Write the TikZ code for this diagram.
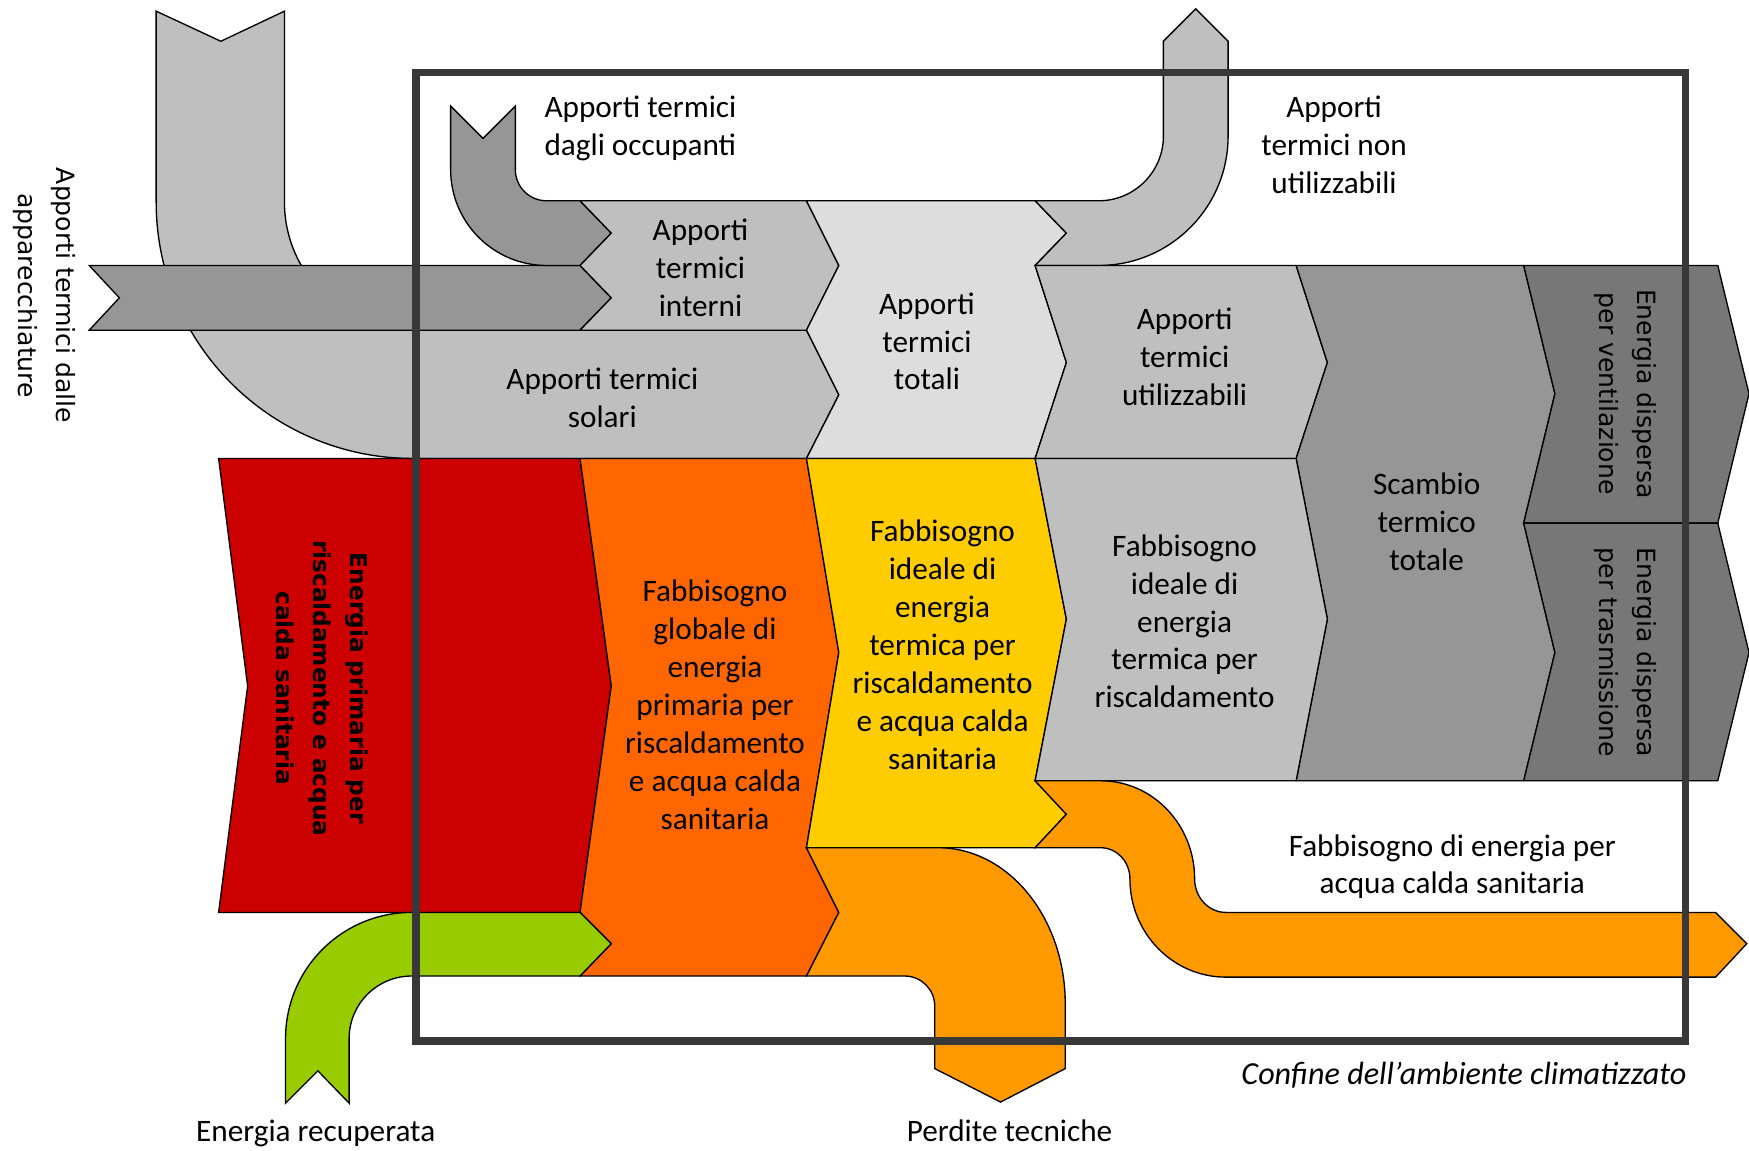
\documentclass[tikz,border=0pt]{standalone}
\usepackage{fontspec}
\setmainfont{Carlito}
\newfontfamily\dejavu{DejaVu Sans}
\usepackage{tikz}
\definecolor{gainlt}{HTML}{BFBFBF}
\definecolor{gaindk}{HTML}{969696}
\definecolor{gaintot}{HTML}{DDDDDD}
\definecolor{lossdk}{HTML}{777777}
\definecolor{primred}{HTML}{CC0000}
\definecolor{globorg}{HTML}{FF6600}
\definecolor{idealyel}{HTML}{FFCC00}
\definecolor{acsorg}{HTML}{FF9900}
\definecolor{recgrn}{HTML}{99CC00}
\definecolor{bound}{HTML}{383838}
\tikzset{
  flow/.style={draw=black,line width=1.2pt},
  lab/.style={font=\fontsize{28}{34}\selectfont,align=center,inner sep=0pt},
  vlab/.style={font=\dejavu\fontsize{22.5}{34}\selectfont,align=center,inner sep=0pt,rotate=-90},
  rlab/.style={font=\dejavu\bfseries\fontsize{20.8}{33}\selectfont,align=center,inner sep=0pt,rotate=-90},
}
\begin{document}
\begin{tikzpicture}[x=1pt,y=1pt,yscale=-1]
\useasboundingbox (0,0) rectangle (1568,1031);
\fill[white] (0,0) rectangle (1568,1031);
% gains: solar, appliances, occupants
\filldraw[flow,fill=gainlt] (140,10) -- (198,37) -- (255,10) -- (255,181)
  arc[start angle=180,end angle=90,radius=115] -- (723,296) -- (752,354) -- (723,411) -- (370,411)
  arc[start angle=90,end angle=180,radius=230] -- cycle;
\filldraw[flow,fill=gaindk] (80,238) -- (520,238) -- (548,267) -- (520,296) -- (80,296) -- (107,267) -- cycle;
\filldraw[flow,fill=gaindk] (404,95) -- (433,124) -- (462,95) -- (462,152)
  arc[start angle=180,end angle=90,radius=28] -- (520,180) -- (548,209) -- (520,238) -- (490,238)
  arc[start angle=90,end angle=180,radius=86] -- cycle;
\filldraw[flow,fill=gainlt] (520,180) -- (723,180) -- (752,238) -- (723,296) -- (520,296) -- (548,267) -- (520,238) -- (548,209) -- cycle;
\filldraw[flow,fill=gaintot] (723,180) -- (928,180) -- (956,209) -- (928,238) -- (956,325) -- (928,411) -- (723,411) -- (752,354) -- (723,296) -- (752,238) -- cycle;
\filldraw[flow,fill=gainlt] (928,180) -- (985,180) arc[start angle=90,end angle=0,radius=58] -- (1043,37) -- (1072,8) -- (1101,37) -- (1101,122)
  arc[start angle=0,end angle=90,radius=116] -- (928,238) -- (956,209) -- cycle;
\filldraw[flow,fill=gainlt] (928,238) -- (1162,238) -- (1190,325) -- (1162,411) -- (928,411) -- (956,325) -- cycle;
% exchange and losses
\filldraw[flow,fill=gaindk] (1162,238) -- (1366,238) -- (1394,353) -- (1366,469) -- (1394,585) -- (1366,700) -- (1162,700) -- (1190,555) -- (1162,411) -- (1190,325) -- cycle;
\filldraw[flow,fill=lossdk] (1366,238) -- (1540,238) -- (1568,353) -- (1540,469) -- (1366,469) -- (1394,353) -- cycle;
\filldraw[flow,fill=lossdk] (1366,469) -- (1540,469) -- (1568,585) -- (1540,700) -- (1366,700) -- (1394,585) -- cycle;
% energy needs
\filldraw[flow,fill=primred] (196,411) -- (520,411) -- (548,615) -- (520,818) -- (196,818) -- (222,615) -- cycle;
\filldraw[flow,fill=globorg] (520,411) -- (723,411) -- (752,585) -- (723,760) -- (752,818) -- (723,875) -- (520,875) -- (548,846) -- (520,818) -- (548,615) -- cycle;
\filldraw[flow,fill=idealyel] (723,411) -- (928,411) -- (956,555) -- (928,700) -- (956,730) -- (928,760) -- (723,760) -- (752,585) -- cycle;
\filldraw[flow,fill=gainlt] (928,411) -- (1162,411) -- (1190,555) -- (1162,700) -- (928,700) -- (956,555) -- cycle;
% recovered energy, technical losses, hot water
\filldraw[flow,fill=recgrn] (256,989) -- (285,960) -- (313,989) -- (313,931)
  arc[start angle=180,end angle=270,radius=56] -- (520,875) -- (548,846) -- (520,818) -- (369,818)
  arc[start angle=270,end angle=180,radius=113] -- cycle;
\filldraw[flow,fill=acsorg] (723,760) -- (841,760) arc[start angle=270,end angle=360,x radius=114,y radius=140]
  -- (955,958) -- (897,988) -- (838,958) -- (838,902) arc[start angle=0,end angle=-90,radius=27]
  -- (723,875) -- (752,818) -- cycle;
\filldraw[flow,fill=acsorg] (928,700) -- (987,700) arc[start angle=270,end angle=360,x radius=84,y radius=88]
  arc[start angle=180,end angle=90,x radius=28,y radius=30] -- (1538,818) -- (1566,846) -- (1538,876) -- (1099,876)
  arc[start angle=90,end angle=180,x radius=86,y radius=88] arc[start angle=0,end angle=-90,x radius=26,y radius=28]
  -- (928,760) -- (956,730) -- cycle;
% boundary of the conditioned space
\draw[bound,line width=7] (373,65) rectangle (1511,933);
\node[lab,anchor=east,font=\itshape\fontsize{28.8}{34}\selectfont] (bnd) at (1512,964) {Confine dell’ambiente climatizzato};
% labels
\node[vlab] (appl) at (40,265) {Apporti termici dalle\\apparecchiature};
\node[lab,anchor=west,align=left] (occ) at (488,115) {Apporti termici\\dagli occupanti};
\node[lab] (int) at (628,240) {Apporti\\termici\\interni};
\node[lab] (sol) at (540,357) {Apporti termici\\solari};
\node[lab] (tot) at (831,306) {Apporti\\termici\\totali};
\node[lab] (nonut) at (1196,130) {Apporti\\termici non\\utilizzabili};
\node[lab] (ut) at (1062,320) {Apporti\\termici\\utilizzabili};
\node[lab] (scamb) at (1279,468) {Scambio\\termico\\totale};
\foreach \nm/\y/\t in {vent/353/{Energia dispersa\\per ventilazione},tras/585/{Energia dispersa\\per trasmissione}}
  \node[vlab] (\nm) at (1457,\y) {\t};
\node[rlab] (prim) at (289,617) {Energia primaria per\\riscaldamento e acqua\\calda sanitaria};
\node[lab] (glob) at (641,632) {Fabbisogno\\globale di\\energia\\primaria per\\riscaldamento\\e acqua calda\\sanitaria};
\node[lab] (ideal) at (845,578) {Fabbisogno\\ideale di\\energia\\termica per\\riscaldamento\\e acqua calda\\sanitaria};
\node[lab] (heat) at (1062,557) {Fabbisogno\\ideale di\\energia\\termica per\\riscaldamento};
\node[lab] (acs) at (1302,777) {Fabbisogno di energia per\\acqua calda sanitaria};
\node[lab] (rec) at (283,1016) {Energia recuperata};
\node[lab] (perd) at (905,1014) {Perdite tecniche};
\end{tikzpicture}
\end{document}
